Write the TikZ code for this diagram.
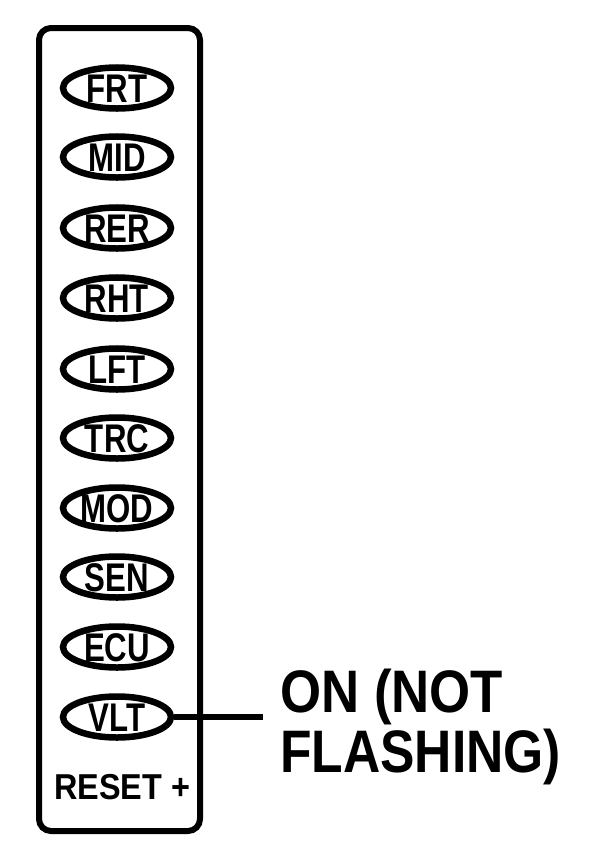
\documentclass[tikz,border=0pt]{standalone}
\usepackage{fontspec}
\setmainfont{Liberation Sans}
\usetikzlibrary{shapes.geometric}
\newcommand{\lampfont}{\fontsize{40}{40}\selectfont\bfseries}
\newcommand{\cnd}[2]{\scalebox{#1}[1]{#2}}
\tikzset{
  panel/.style={line width=6pt, rounded corners=12pt},
  lamp/.style={draw, ellipse, line width=6.5pt, minimum width=108pt, minimum height=39pt, inner sep=0pt, text height=29pt, text depth=0pt, font=\lampfont},
  leader/.style={line width=6pt},
  bigtext/.style={font=\fontsize{60}{60}\selectfont\bfseries, anchor=west, inner sep=0pt, align=left},
}
\begin{document}
\begin{tikzpicture}[x=1pt,y=-1pt]
\useasboundingbox (0,0) rectangle (594,860);
\draw[panel] (39,28) rectangle (200,831);
\node[lamp] (frt) at (117,88)  {\cnd{0.78}{FRT}};
\node[lamp] (mid) at (117,157) {\cnd{0.78}{MID}};
\node[lamp] (rer) at (117,228) {\cnd{0.78}{RER}};
\node[lamp] (rht) at (117,298) {\cnd{0.78}{RHT}};
\node[lamp] (lft) at (117,369) {\cnd{0.78}{LFT}};
\node[lamp] (trc) at (117,438) {\cnd{0.78}{TRC}};
\node[lamp] (mod) at (117,508) {\cnd{0.78}{MOD}};
\node[lamp] (sen) at (117,577) {\cnd{0.78}{SEN}};
\node[lamp] (ecu) at (117,647) {\cnd{0.78}{ECU}};
\node[lamp] (vlt) at (117,717) {\cnd{0.78}{VLT}};
\node[font=\fontsize{36}{36}\selectfont\bfseries, inner sep=0pt, text height=26pt, text depth=0pt] (reset) at (122,786) {\cnd{0.9}{RESET +}};
\coordinate (lend) at (263,717);
\draw[leader] (vlt.east) -- (lend);
\node[bigtext] (on) at (280,697) {\cnd{0.88}{ON (NOT}};
\node[bigtext] (fl) at (280,757) {\cnd{0.86}{FLASHING)}};
\end{tikzpicture}
\end{document}
